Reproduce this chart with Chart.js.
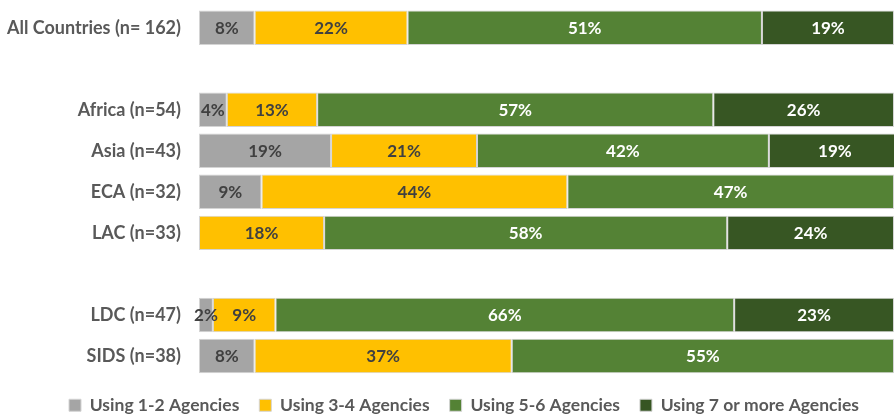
<!DOCTYPE html>
<html>
<head>
<meta charset="utf-8">
<script src="https://cdn.jsdelivr.net/npm/chart.js@4"></script>
<style>
  body { margin: 0; background: #fff; }
  #wrap { width: 894px; height: 414px; position: relative; }
</style>
</head>
<body>
<div id="wrap"><canvas id="chart"></canvas></div>
<script>
// Share of countries by number of agencies used (percent)
const categories = ['All Countries (n= 162)', '', 'Africa (n=54)', 'Asia (n=43)', 'ECA (n=32)', 'LAC (n=33)', '', 'LDC (n=47)', 'SIDS (n=38)'];
const seriesNames = ['Using 1-2 Agencies', 'Using 3-4 Agencies', 'Using 5-6 Agencies', 'Using 7 or more Agencies'];
const using12 = [8, null, 4, 19, 9, 0, null, 2, 8];
const using34 = [22, null, 13, 21, 44, 18, null, 9, 37];
const using56 = [51, null, 57, 42, 47, 58, null, 66, 55];
const using7plus = [19, null, 26, 19, 0, 24, null, 23, 0];

const colors = ['#A5A5A5', '#FFC000', '#548235', '#375623'];
const labelColors = ['#404040', '#404040', '#ffffff', '#ffffff'];

const FONT = 'Lato, "DejaVu Sans", sans-serif';

// Draw value labels in the middle of each segment
const valueLabels = {
    id: 'valueLabels',
    afterDatasetsDraw(chart) {
        const ctx = chart.ctx;
        ctx.save();
        ctx.font = 'bold 17px ' + FONT;
        ctx.textAlign = 'center';
        ctx.textBaseline = 'middle';
        chart.data.datasets.forEach((ds, i) => {
            const meta = chart.getDatasetMeta(i);
            meta.data.forEach((bar, j) => {
                const v = ds.data[j];
                if (!v) return;
                ctx.fillStyle = labelColors[i];
                ctx.fillText(v + '%', (bar.x + bar.base) / 2, bar.y + 1);
            });
        });
        ctx.restore();
    }
};

// Legend in the original sits a bit right of the canvas centre
const legendShift = {
    id: 'legendShift',
    afterLayout(chart) {
        chart.legend.left += 17;
        chart.legend.right += 17;
    }
};

const datasets = [using12, using34, using56, using7plus].map((data, i) => ({
    label: seriesNames[i],
    data: data,
    backgroundColor: colors[i],
    borderColor: '#d4d4d4',
    borderWidth: ctx => (ctx.raw ? 1 : 0),
    borderSkipped: false,
    barPercentage: 1,
    categoryPercentage: 0.84
}));

new Chart(document.getElementById('chart'), {
    type: 'bar',
    data: { labels: categories, datasets: datasets },
    options: {
        indexAxis: 'y',
        responsive: true,
        maintainAspectRatio: false,
        animation: false,
        layout: { padding: { left: 0, right: 0, top: 7, bottom: -10 } },
        scales: {
            x: {
                stacked: true,
                min: 0,
                max: 100,
                display: false
            },
            y: {
                stacked: true,
                grid: { color: 'transparent', drawOnChartArea: false, drawTicks: true, tickLength: 18 },
                border: { display: false },
                ticks: {
                    color: '#595959',
                    font: { family: FONT, size: 18, weight: 'bold', lineHeight: 0.8 },
                    padding: 0
                },
                afterFit(scale) { scale.width = 199; }
            }
        },
        plugins: {
            legend: {
                position: 'bottom',
                labels: {
                    color: '#595959',
                    font: { family: FONT, size: 17.5, weight: 'bold' },
                    boxWidth: 12,
                    boxHeight: 12,
                    padding: 20
                }
            },
            tooltip: { enabled: false }
        }
    },
    plugins: [valueLabels, legendShift]
});
</script>
</body>
</html>
